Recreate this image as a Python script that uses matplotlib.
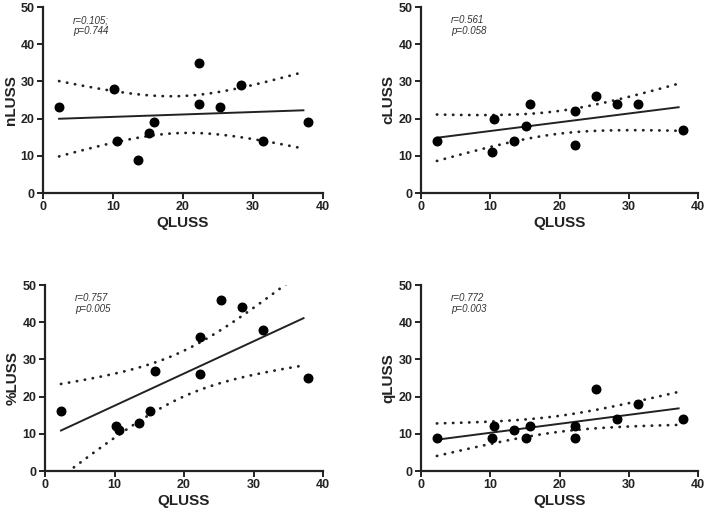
import numpy as np
import matplotlib.pyplot as plt

# QLUSS values (shared x for all four panels)
qluss = [2.3, 10.2, 10.6, 13.5, 15.1, 15.8, 22.3, 22.3, 25.3, 28.3, 31.4, 37.8]

nluss = [23, 28, 14, 9, 16, 19, 35, 24, 23, 29, 14, 19]
cluss = [14, 11, 20, 14, 18, 24, 22, 13, 26, 24, 24, 17]
pluss = [16, 12, 11, 13, 16, 27, 36, 26, 46, 44, 38, 25]
qluss_y = [9, 9, 12, 11, 9, 12, 12, 9, 22, 14, 18, 14]

ylabels = ["nLUSS", "cLUSS", "%LUSS", "qLUSS"]
stats = ["r=0.105;\np=0.744", "r=0.561\np=0.058", "r=0.757\np=0.005", "r=0.772\np=0.003"]

plt.rcParams['font.family'] = ['Liberation Sans', 'DejaVu Sans']

fig = plt.figure(figsize=(7.09, 5.15), dpi=100)
W, H = 709, 515
# axes boxes in pixels: left, top, right, bottom
boxes = [(43, 7, 323, 193), (421, 7, 698, 193), (45, 285, 323, 471), (421, 285, 698, 471)]


def fit_band(x, y, xs):
    x = np.asarray(x, float)
    y = np.asarray(y, float)
    n = len(x)
    b, a = np.polyfit(x, y, 1)
    resid = y - (a + b * x)
    s = np.sqrt(np.sum(resid ** 2) / (n - 2))
    sxx = np.sum((x - x.mean()) ** 2)
    t = 2.228  # t(0.975, 10)
    yhat = a + b * xs
    se = s * np.sqrt(1.0 / n + (xs - x.mean()) ** 2 / sxx)
    return yhat, yhat - t * se, yhat + t * se


for i, ys in enumerate([nluss, cluss, pluss, qluss_y]):
    l, t_, r, b_ = boxes[i]
    ax = fig.add_axes([l / W, 1 - b_ / H, (r - l) / W, (b_ - t_) / H])
    xs = np.linspace(min(qluss), 37.2, 100)
    yhat, lo, hi = fit_band(qluss, ys, xs)
    ax.plot(xs, yhat, color='#222222', lw=1.4, zorder=2)
    for band in (lo, hi):
        ax.plot(xs, band, color='#222222', lw=2.0, linestyle=(0, (0.1, 2.8)),
                dash_capstyle='round', zorder=2)
    ax.scatter(qluss, ys, s=38, color='black', zorder=3, clip_on=False)

    ax.set_xlim(0, 40)
    ax.set_ylim(0, 50)
    ax.set_xticks([0, 10, 20, 30, 40])
    ax.set_yticks([0, 10, 20, 30, 40, 50])
    for side in ('top', 'right'):
        ax.spines[side].set_visible(False)
    for side in ('left', 'bottom'):
        ax.spines[side].set_linewidth(1.6)
        ax.spines[side].set_color('#222222')
    ax.tick_params(direction='out', length=4, width=1.4, colors='#222222',
                   labelsize=9, pad=2)
    for lab in ax.get_xticklabels() + ax.get_yticklabels():
        lab.set_fontweight('bold')
    ax.set_ylabel(ylabels[i], fontsize=11, fontweight='bold', color='#222222', labelpad=2)
    ax.set_xlabel("QLUSS", fontsize=11, fontweight='bold', color='#222222', labelpad=2)
    ax.text(4.3, 47.8, stats[i], fontsize=7, style='italic', color='#333333',
            va='top', ha='left', linespacing=1.1)

fig.savefig("out.png", dpi=100)
